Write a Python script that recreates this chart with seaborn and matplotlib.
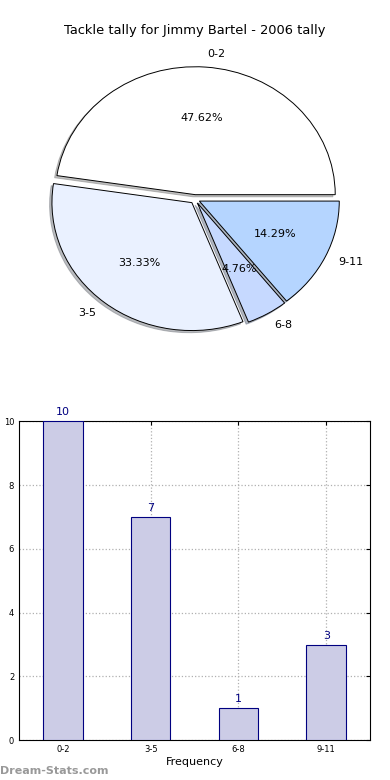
import matplotlib
matplotlib.use("Agg")
import matplotlib.pyplot as plt
import seaborn as sns

bins = ['0-2', '3-5', '6-8', '9-11']
counts = [10, 7, 1, 3]
pie_colors = ['#FFFFFF', '#EAF1FF', '#C6D9FF', '#B5D5FF']

sns.set_style('white')
plt.rcParams['font.family'] = ['DejaVu Sans']
plt.rcParams['text.color'] = 'black'
plt.rcParams['xtick.color'] = 'black'
plt.rcParams['ytick.color'] = 'black'
plt.rcParams['axes.labelcolor'] = 'black'

fig = plt.figure(figsize=(3.9, 7.8), dpi=100)

# pie, old style (not forced round)
ax1 = fig.add_axes([0.0513, 0.5397, 0.897, 0.410])
wedges, texts, autotexts = ax1.pie(
    counts, labels=bins, colors=pie_colors, explode=[0.035] * 4,
    autopct='%1.2f%%', shadow={'ox': -0.012, 'oy': -0.012, 'shade': 0.5},
    startangle=0, labeldistance=1.1, pctdistance=0.6,
    wedgeprops={'edgecolor': 'black', 'linewidth': 0.7},
    textprops={'fontsize': 8})
ax1.set_aspect('auto')
ax1.set_xlim(-1.25, 1.25)
ax1.set_ylim(-1.25, 1.25)
fig.text(0.5, 0.961, 'Tackle tally for Jimmy Bartel - 2006 tally',
         ha='center', va='center', fontsize=9.4)

# bars
ax2 = fig.add_axes([0.049, 0.051, 0.9, 0.409])
sns.barplot(x=bins, y=counts, ax=ax2, color='#CCCCE6', edgecolor='navy',
            linewidth=0.8, width=0.45, saturation=1, zorder=3)
ax2.set_xlim(-0.5, 3.5)
ax2.set_ylim(0, 10)
ax2.set_yticks([0, 2, 4, 6, 8, 10])
ax2.grid(True, linestyle=':', color='#b0b0b0', linewidth=0.9, zorder=0)
ax2.set_axisbelow(True)
for s in ax2.spines.values():
    s.set_visible(True)
    s.set_color('black')
    s.set_linewidth(0.8)
ax2.tick_params(direction='in', length=3, labelsize=6, top=True, right=True)
ax2.set_xlabel('Frequency', fontsize=8, labelpad=2)
for i, v in enumerate(counts):
    ax2.text(i, v + 0.12, str(v), ha='center', va='bottom',
             color='navy', fontsize=8)

fig.text(2 / 390, 0.255, 'Occurrences', rotation=90, ha='right',
         va='center', fontsize=8)
fig.text(0.0, 0.012, 'Dream-Stats.com', ha='left', va='center',
         fontsize=8, color='#999999', fontweight='bold')

fig.savefig('out.png', dpi=100)
